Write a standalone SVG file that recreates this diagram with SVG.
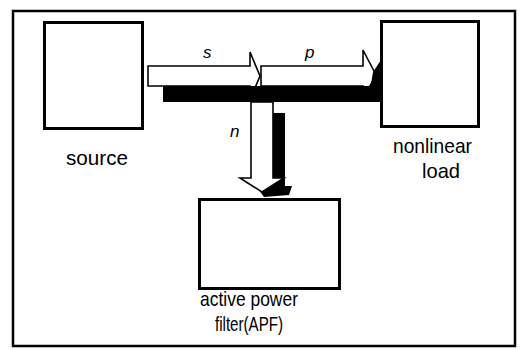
<svg xmlns="http://www.w3.org/2000/svg" width="523" height="349" viewBox="0 0 523 349">
<style>
.box{fill:#fff;stroke:#000;stroke-width:3}
.arr{fill:#fff;stroke:#000;stroke-width:1.6;stroke-linejoin:miter}
.sh{fill:#000;stroke:none}
.lbl{font-family:"Liberation Sans",Arial,sans-serif;font-size:21px;fill:#000}
.var{font-family:"Liberation Sans",Arial,sans-serif;font-size:17px;font-style:italic;fill:#000}
</style>
<rect x="0" y="0" width="523" height="349" fill="#fff"/>
<rect x="13" y="11" width="502" height="335" fill="none" stroke="#000" stroke-width="2.5"/>
<g id="connectors">
  <g id="arrow-s">
    <polygon class="arr" points="148,66 250,66 250,52 260,76 250,100 250,86 148,86"/>
  </g>
  <g id="arrow-p">
    <polygon class="arr" points="261,66 363,66 363,50 376,75 363,99 363,86 261,86"/>
  </g>
  <rect class="sh" x="163" y="86" width="217" height="16"/>
  <polygon class="sh" points="373,72 381,60 381,102 368,102"/>
  <g id="arrow-n">
    <rect class="sh" x="273" y="113" width="12" height="76"/>
    <polygon class="sh" points="256,186 292,186 289,195 264,197"/>
    <polygon class="arr" points="251,102 251,178 240,178 262,192 284,178 273,178 273,102"/>
  </g>
  <text class="var" x="203" y="58">s</text>
  <text class="var" x="305" y="58">p</text>
  <text class="var" x="230" y="137">n</text>
</g>
<g id="source">
  <rect class="box" x="44.5" y="22.5" width="98" height="106"/>
  <text class="lbl" x="66" y="165" textLength="62" lengthAdjust="spacingAndGlyphs">source</text>
</g>
<g id="nonlinear-load">
  <rect class="box" x="381.5" y="21.5" width="97" height="105"/>
  <text class="lbl" x="393" y="153" textLength="79" lengthAdjust="spacingAndGlyphs">nonlinear</text>
  <text class="lbl" x="422" y="178" textLength="38" lengthAdjust="spacingAndGlyphs">load</text>
</g>
<g id="apf">
  <rect class="box" x="199.5" y="199.5" width="140" height="89"/>
  <text class="lbl" x="200" y="306" textLength="98" lengthAdjust="spacingAndGlyphs">active power</text>
  <text class="lbl" x="215" y="331" textLength="68" lengthAdjust="spacingAndGlyphs">filter(APF)</text>
</g>
</svg>
